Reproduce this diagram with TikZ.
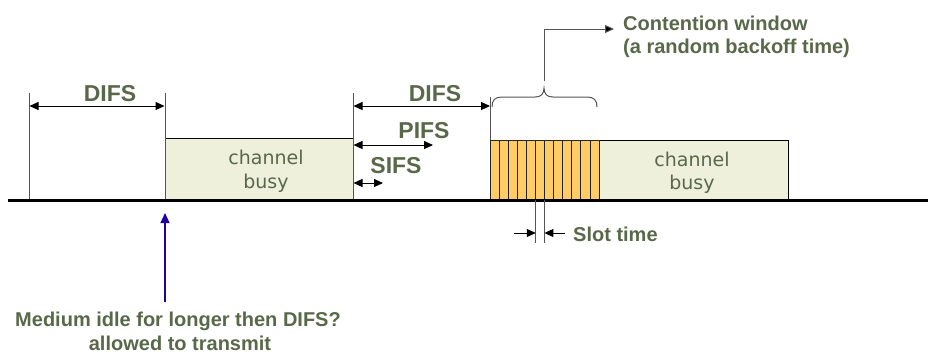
\documentclass[tikz,border=0pt]{standalone}
\usepackage{fontspec}
\setmainfont{Liberation Sans}
\newfontfamily\busyfont{DejaVu Sans}
\usetikzlibrary{arrows.meta}
\definecolor{lbl}{RGB}{88,104,72}
\definecolor{busyfill}{RGB}{238,240,220}
\definecolor{slotfill}{RGB}{255,204,102}
\definecolor{gline}{RGB}{85,85,85}
\definecolor{darkblue}{RGB}{32,0,160}
\begin{document}
\begin{tikzpicture}[x=1pt,y=-1pt,
  lab/.style={font=\fontsize{20}{24}\selectfont\bfseries, text=lbl, inner sep=0pt},
  biglab/.style={font=\fontsize{23}{26}\selectfont\bfseries, text=lbl, inner sep=0pt},
  busytxt/.style={font=\busyfont\fontsize{19}{24}\selectfont, text=lbl, inner sep=0pt, anchor=base},
  tickline/.style={draw=gline, line width=1pt},
  dimarrow/.style={{Triangle[length=9pt,width=8pt]}-{Triangle[length=9pt,width=8pt]}, line width=1pt, black},
  busybox/.style={draw=black, line width=0.9pt, fill=busyfill, inner sep=0pt},
  slotbox/.style={draw=black!85, line width=0.8pt, fill=slotfill, inner sep=0pt, minimum width=9.083pt, minimum height=60pt},
]
\useasboundingbox (0,0) rectangle (928,354);

% boxes
\node[busybox, minimum width=188pt, minimum height=62pt] (box1) at (259,169) {};
\node[busybox, minimum width=189pt, minimum height=60pt] (box2) at (693.5,170) {};
\foreach \i in {0,...,11}{
  \node[slotbox] (slot\i) at ({490+9.083*\i+4.5415},170) {};
}
\node[busytxt] (b1a) at (266,164) {channel};
\node[busytxt] (b1b) at (266,188) {busy};
\node[busytxt] (b2a) at (692,166) {channel};
\node[busytxt] (b2b) at (692,189) {busy};

% ticks
\coordinate (t0a) at (29,93);  \coordinate (t0b) at (29,200);
\coordinate (t1a) at (165,93); \coordinate (t1b) at (165,200);
\coordinate (t2a) at (353,93); \coordinate (t2b) at (353,200);
\coordinate (t3a) at (490.5,97); \coordinate (t3b) at (490.5,140);
\draw[tickline] (t0a) -- (t0b);
\draw[tickline] (t1a) -- (t1b);
\draw[tickline] (t2a) -- (t2b);
\draw[tickline] (t3a) -- (t3b);

% baseline
\coordinate (axL) at (8,200);
\coordinate (axR) at (928,200);
\draw[line width=3pt, black] (axL) -- (axR);

% dimension arrows
\coordinate (d1a) at (29.5,106); \coordinate (d1b) at (164.5,106);
\coordinate (d2a) at (353.5,106); \coordinate (d2b) at (490,106);
\coordinate (pa) at (353.5,145); \coordinate (pb) at (433,145);
\coordinate (sa) at (353.5,183); \coordinate (sb) at (383,183);
\draw[dimarrow] (d1a) -- (d1b);
\draw[dimarrow] (d2a) -- (d2b);
\draw[dimarrow] (pa) -- (pb);
\draw[dimarrow] (sa) -- (sb);

\node[biglab] (difs1) at (110,94) {DIFS};
\node[biglab] (difs2) at (435,94) {DIFS};
\node[biglab] (pifs) at (424,131) {PIFS};
\node[biglab] (sifs) at (396,166) {SIFS};

% brace
\draw[gline, line width=1pt] (492,107) .. controls (492,100) and (495,97) .. (502,97) -- (535,97)
  .. controls (541,97) and (544,94) .. (544,88) .. controls (544,94) and (547,97) .. (553,97)
  -- (587,97) .. controls (594,97) and (597,100) .. (597,107);
\coordinate (cw0) at (544,81);
\coordinate (cw1) at (544,29);
\coordinate (cw2) at (614,29);
\draw[gline, line width=1pt, -{Triangle[length=9pt,width=8pt,fill=black]}] (cw0) -- (cw1) -- (cw2);
\node[lab, anchor=base west] (cwt1) at (623,30) {Contention window};
\node[lab, anchor=base west] (cwt2) at (623,53) {(a random backoff time)};

% slot time
\coordinate (sl1a) at (535.8,200); \coordinate (sl1b) at (535.8,243);
\coordinate (sl2a) at (544.4,200); \coordinate (sl2b) at (544.4,243);
\draw[gline, line width=1pt] (sl1a) -- (sl1b);
\draw[gline, line width=1pt] (sl2a) -- (sl2b);
\coordinate (sta) at (514,233); \coordinate (stb) at (565,233);
\draw[line width=1pt, -{Triangle[length=9pt,width=8pt]}] (sta) -- (sl1b |- sta);
\draw[line width=1pt, -{Triangle[length=9pt,width=8pt]}] (stb) -- (sl2b |- stb);
\node[lab, anchor=base west] (slot) at (573,241) {Slot time};

% medium idle
\coordinate (ma) at (165,302);
\coordinate (mb) at (165,213);
\draw[darkblue, line width=1.2pt, -{Triangle[length=10pt,width=9pt]}] (ma) -- (mb);
\node[lab, anchor=base] (m1) at (178,326) {Medium idle for longer then DIFS?};
\node[lab, anchor=base] (m2) at (180,350) {allowed to transmit};
\end{tikzpicture}
\end{document}
